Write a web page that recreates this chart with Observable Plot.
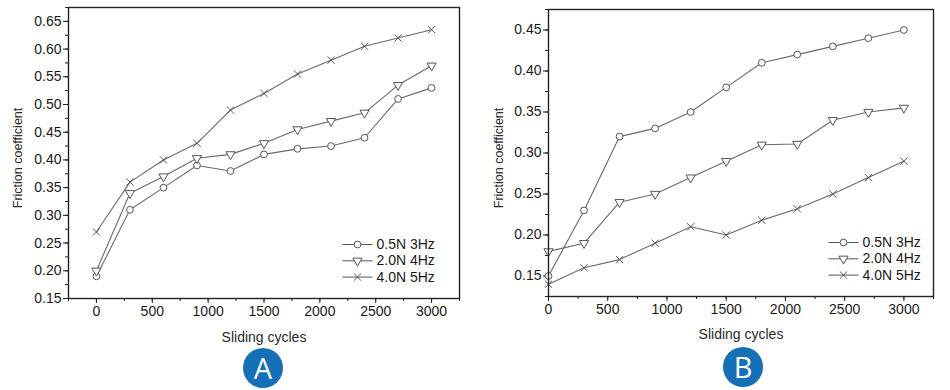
<!DOCTYPE html>
<html>
<head>
<meta charset="utf-8">
<script src="https://cdn.jsdelivr.net/npm/d3@7"></script>
<script src="https://cdn.jsdelivr.net/npm/@observablehq/plot@0.6"></script>
<style>
  html, body { margin: 0; padding: 0; background: #fff; }
  body { width: 950px; height: 390px; position: relative; overflow: hidden; font-family: "Liberation Sans", Arial, sans-serif; }
  .panel { position: absolute; top: 0; }
  .badge { position: absolute; width: 40px; height: 40px; border-radius: 50%; background: #1670b8; color: #fff;
           font-family: "Open Sans", "Noto Sans", sans-serif; font-size: 29px; line-height: 40px; text-align: center; }
</style>
</head>
<body>
<div id="A" class="panel" style="left:0px"></div>
<div id="B" class="panel" style="left:470px"></div>
<div class="badge" style="left:243px; top:348px">A</div>
<div class="badge" style="left:723px; top:347px">B</div>
<script>
// ---- data ----
const cycles = [0, 300, 600, 900, 1200, 1500, 1800, 2100, 2400, 2700, 3000];
const seriesNames = ["0.5N 3Hz", "2.0N 4Hz", "4.0N 5Hz"];

// Panel A
const a_05N3Hz = [0.19, 0.31, 0.35, 0.39, 0.38, 0.41, 0.42, 0.425, 0.44, 0.51, 0.53];
const a_20N4Hz = [0.20, 0.34, 0.37, 0.403, 0.41, 0.43, 0.455, 0.47, 0.485, 0.535, 0.57];
const a_40N5Hz = [0.27, 0.36, 0.40, 0.43, 0.49, 0.52, 0.555, 0.58, 0.605, 0.62, 0.635];

// Panel B
const b_05N3Hz = [0.15, 0.23, 0.32, 0.33, 0.35, 0.38, 0.41, 0.42, 0.43, 0.44, 0.45];
const b_20N4Hz = [0.18, 0.19, 0.24, 0.25, 0.27, 0.29, 0.31, 0.311, 0.34, 0.35, 0.355];
const b_40N5Hz = [0.14, 0.16, 0.17, 0.19, 0.21, 0.20, 0.218, 0.232, 0.25, 0.27, 0.29];

// tick labels
const xTickLabels = [0, 500, 1000, 1500, 2000, 2500, 3000];
const yTickLabelsA = [0.15, 0.20, 0.25, 0.30, 0.35, 0.40, 0.45, 0.50, 0.55, 0.60, 0.65];
const yTickLabelsB = [0.15, 0.20, 0.25, 0.30, 0.35, 0.40, 0.45];

const xAxisTitle = "Sliding cycles";
const yAxisTitle = "Friction coefficient";

function tidy(valuesList) {
  const rows = [];
  valuesList.forEach((vals, si) => {
    vals.forEach((v, i) => rows.push({series: seriesNames[si], x: cycles[i], y: v}));
  });
  return rows;
}

const lineSymbol = { draw(ctx) { ctx.moveTo(-15, 0); ctx.lineTo(15, 0); } };
const symbolRange = ["circle", "triangle", "times"];
const rotations = [0, 180, 0];

function chart(el, cfg) {
  const data = tidy(cfg.series);
  const xMinor = d3.range(cfg.xDomain[0], cfg.xDomain[1] + 1, 250);
  const yMinor = d3.range(0, 60).map(i => +(i * 0.025).toFixed(3)).filter(v => v >= cfg.yDomain[0] - 1e-9 && v <= cfg.yDomain[1] + 1e-9);
  const legendMarks = [];
  seriesNames.forEach((name, i) => {
    const dy = cfg.legend.dy0 + i * 16.3;
    legendMarks.push(
      Plot.dot([name], {frameAnchor: "bottom-right", dx: cfg.legend.dx, dy, symbol: lineSymbol, r: 5, stroke: "#555", fill: "none", strokeWidth: 1}),
      Plot.dot([name], {frameAnchor: "bottom-right", dx: cfg.legend.dx, dy, symbol: symbolRange[i], rotate: rotations[i], r: 3.4, stroke: "#555", fill: "white", strokeWidth: 1}),
      Plot.text([name], {frameAnchor: "bottom-right", dx: cfg.legend.dx + 19, dy, text: d => d, textAnchor: "start", lineAnchor: "middle", fontSize: 14, fill: "#1a1a1a"})
    );
  });
  const svg = Plot.plot({
    width: cfg.width,
    height: 350,
    marginLeft: cfg.marginLeft,
    marginRight: cfg.marginRight,
    marginTop: cfg.marginTop,
    marginBottom: cfg.marginBottom,
    style: {fontFamily: "'Liberation Sans', Arial, sans-serif", fontSize: "14px", color: "#1a1a1a", background: "transparent", overflow: "visible"},
    x: {domain: cfg.xDomain},
    y: {domain: cfg.yDomain},
    symbol: {domain: seriesNames, range: symbolRange},
    marks: [
      Plot.axisX(xMinor, {tickSize: 3, tickFormat: () => "", label: null, stroke: "#222"}),
      Plot.axisY(yMinor, {tickSize: 3, tickFormat: () => "", label: null, stroke: "#222"}),
      Plot.axisX(xTickLabels, {tickSize: 5, tickPadding: 3, tickFormat: d => String(d), label: null, stroke: "#222", fill: "#1a1a1a", fontSize: 14}),
      Plot.axisY(cfg.yTicks, {tickSize: 5, tickPadding: 2, tickFormat: d3.format(".2f"), label: null, stroke: "#222", fill: "#1a1a1a", fontSize: 14}),
      Plot.line(data, {x: "x", y: "y", z: "series", stroke: "#6a6a6a", strokeWidth: 1.1}),
      Plot.dot(data, {x: "x", y: "y", symbol: "series", rotate: d => rotations[seriesNames.indexOf(d.series)], r: 3.4, stroke: "#555", fill: "white", strokeWidth: 1}),
      Plot.frame({stroke: "#222", strokeWidth: 1.4}),
      Plot.text([xAxisTitle], {frameAnchor: "bottom", dy: cfg.xTitleDy, text: d => d, textAnchor: "middle", lineAnchor: "middle", fontSize: 14, fill: "#2a2a2a"}),
      Plot.text([yAxisTitle], {frameAnchor: "left", dx: cfg.yTitleDx, dy: 5, rotate: -90, text: d => d, textAnchor: "middle", lineAnchor: "middle", fontSize: 12.5, fill: "#2a2a2a"}),
      ...legendMarks
    ]
  });
  document.getElementById(el).appendChild(svg);
}

chart("A", {
  series: [a_05N3Hz, a_20N4Hz, a_40N5Hz],
  width: 470, marginLeft: 68, marginRight: 11, marginTop: 7, marginBottom: 52,
  xDomain: [-250, 3250], yDomain: [0.15, 0.675], yTicks: yTickLabelsA,
  xTitleDy: 39, yTitleDx: -51,
  legend: {dx: -102, dy0: -54}
});

chart("B", {
  series: [b_05N3Hz, b_20N4Hz, b_40N5Hz],
  width: 480, marginLeft: 78, marginRight: 17, marginTop: 9, marginBottom: 54,
  xDomain: [0, 3250], yDomain: [0.125, 0.475], yTicks: yTickLabelsB,
  xTitleDy: 38, yTitleDx: -50,
  legend: {dx: -90, dy0: -54}
});
</script>
</body>
</html>
